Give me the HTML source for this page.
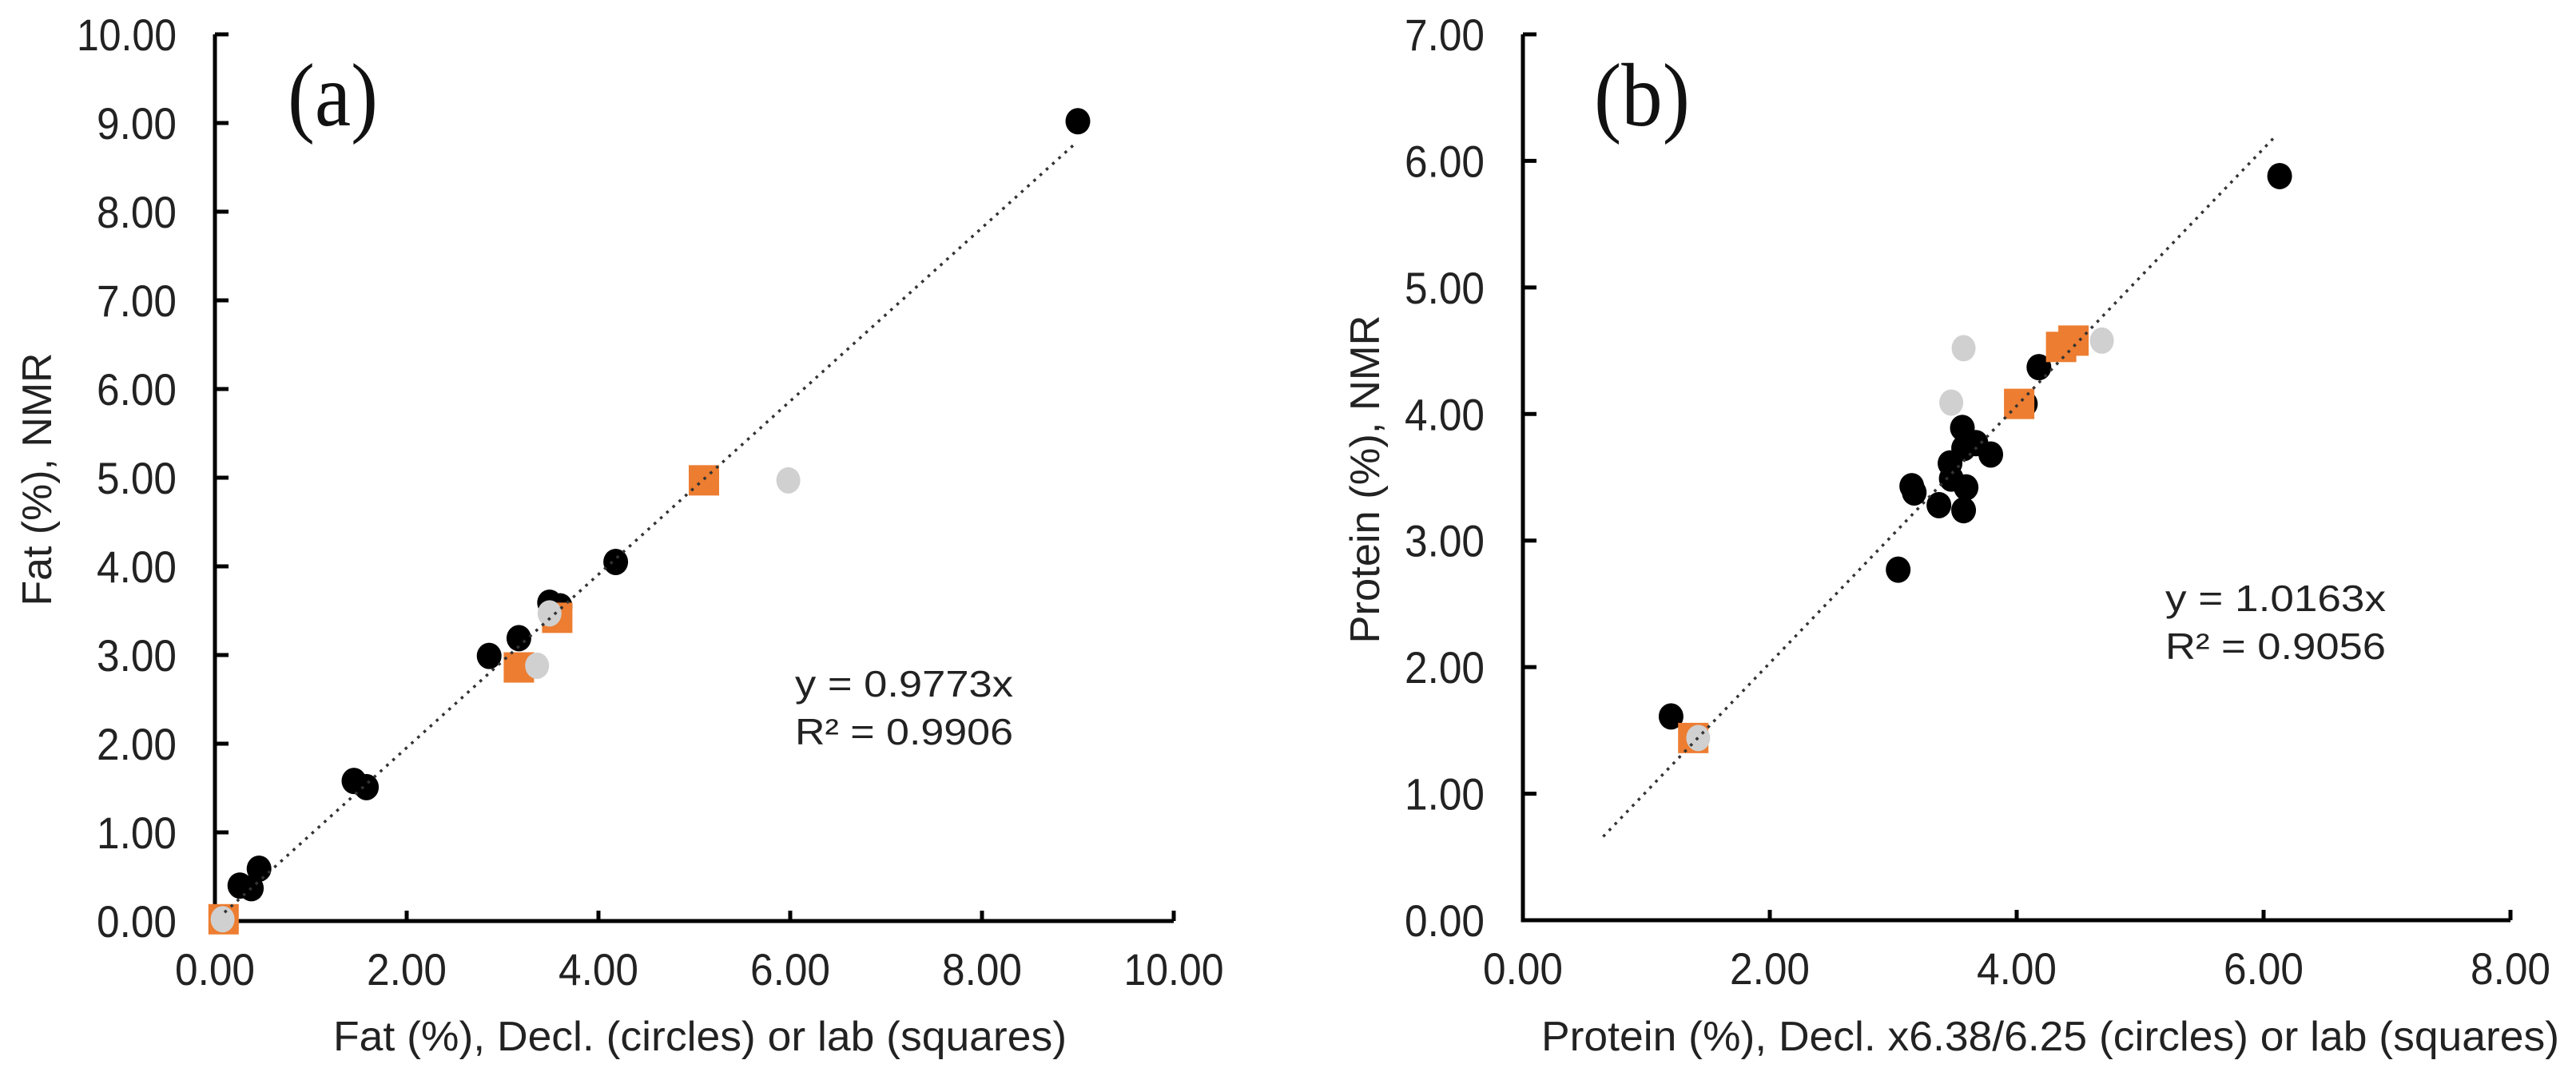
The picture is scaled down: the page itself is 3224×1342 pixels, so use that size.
<!DOCTYPE html>
<html><head><meta charset="utf-8"><style>
html,body{margin:0;padding:0;background:#fff;}
svg{display:block;font-family:"Liberation Sans",Arial,sans-serif;}
</style></head><body>
<svg id="fig" width="3224" height="1342" viewBox="0 0 3224 1342" xmlns="http://www.w3.org/2000/svg">
<g id="chartA"></g>
<g id="chartB"></g>
</svg>
<script>
// ---- Chart (a) data: Fat ----
const fatCircleX = [9.0, 4.18, 3.49, 3.6, 3.17, 2.86, 1.45, 1.58, 0.46, 0.26, 0.38, 0.1];
const fatCircleY = [9.02, 4.05, 3.59, 3.55, 3.19, 2.99, 1.58, 1.51, 0.59, 0.40, 0.37, 0.02];
const fatSquareX = [5.1, 3.17, 3.57, 0.09];
const fatSquareY = [4.97, 2.86, 3.42, 0.02];
const fatGrayX = [5.98, 3.36, 3.49, 0.08];
const fatGrayY = [4.97, 2.88, 3.47, 0.02];
const fatTicksX = ["0.00","2.00","4.00","6.00","8.00","10.00"];
const fatTicksY = ["0.00","1.00","2.00","3.00","4.00","5.00","6.00","7.00","8.00","9.00","10.00"];
const fatSlope = 0.9773;
const fatTrendRange = [0.1, 8.95];

// ---- Chart (b) data: Protein ----
const protCircleX = [6.13, 4.18, 4.07, 3.04, 1.2, 3.15, 3.17, 3.37, 3.46, 3.47, 3.56, 3.57, 3.59, 3.57, 3.67, 3.79];
const protCircleY = [5.88, 4.37, 4.08, 2.77, 1.61, 3.43, 3.38, 3.28, 3.61, 3.49, 3.89, 3.73, 3.42, 3.24, 3.77, 3.68];
const protSquareX = [1.38, 4.02, 4.36, 4.46];
const protSquareY = [1.44, 4.08, 4.53, 4.58];
const protGrayX = [1.42, 3.57, 3.47, 4.69];
const protGrayY = [1.44, 4.52, 4.09, 4.58];
const protTicksX = ["0.00","2.00","4.00","6.00","8.00"];
const protTicksY = ["0.00","1.00","2.00","3.00","4.00","5.00","6.00","7.00"];
const protSlope = 1.0163;
const protTrendRange = [0.65, 6.08];

const NS = "http://www.w3.org/2000/svg";
function mk(parent, tag, attrs, text) {
  const e = document.createElementNS(NS, tag);
  for (const k in attrs) e.setAttribute(k, attrs[k]);
  if (text !== undefined) e.textContent = text;
  parent.appendChild(e);
  return e;
}

function drawChart(g, cfg) {
  const sx = v => cfg.x0 + v / cfg.xMax * (cfg.x1 - cfg.x0);
  const sy = v => cfg.y0 - v / cfg.yMax * (cfg.y0 - cfg.y1);
  const ax = mk(g, "path", {d:`M${cfg.x0},${cfg.y1} V${cfg.y0} H${cfg.x1}`, fill:"none", stroke:"#000", "stroke-width":5});
  
  
  cfg.ticksY.forEach((t) => {
    const v = parseFloat(t); const y = sy(v);
    const tk = mk(g, "line", {x1:cfg.x0, x2:cfg.x0+17, y1:y, y2:y, stroke:"#000", "stroke-width":5});
    
    
    const lb = mk(g, "text", {x:cfg.x0-48, y:y+20, "text-anchor":"end", "font-size":56, fill:"#222", textLength: t.length*25, lengthAdjust:"spacingAndGlyphs"}, t);
    
    
  });
  cfg.ticksX.forEach((t) => {
    const v = parseFloat(t); const x = sx(v);
    const tk = mk(g, "line", {x1:x, x2:x, y1:cfg.y0, y2:cfg.y0-13, stroke:"#000", "stroke-width":5});
    
    
    const lb = mk(g, "text", {x:x, y:cfg.y0+80, "text-anchor":"middle", "font-size":56, fill:"#222", textLength: t.length*25, lengthAdjust:"spacingAndGlyphs"}, t);
    
    
  });
  cfg.circX.forEach((v, i) => {
    const c = mk(g, "ellipse", {cx:sx(v), cy:sy(cfg.circY[i]), rx:15.5, ry:16.5, fill:"#000"});
    
    
  });
  cfg.sqX.forEach((v, i) => {
    const s = mk(g, "rect", {x:sx(v)-19, y:sy(cfg.sqY[i])-19, width:38, height:38, fill:"#ED7D31"});
    
    
  });
  cfg.grayX.forEach((v, i) => {
    const c = mk(g, "ellipse", {cx:sx(v), cy:sy(cfg.grayY[i]), rx:15, ry:16.5, fill:"#d0d0d0"});
    
    
  });
  const [a, b] = cfg.trend;
  const tl = mk(g, "line", {x1:sx(a), y1:sy(a*cfg.slope), x2:sx(b), y2:sy(b*cfg.slope), stroke:"#333", "stroke-width":3.5, "stroke-dasharray":"3.5 7"});
  
  
  const e1 = mk(g, "text", {x:cfg.eqX, y:cfg.eqY, "font-size":46, fill:"#222", textLength:cfg.eqLen, lengthAdjust:"spacingAndGlyphs"}, cfg.eq1);
  
  
  const e2 = mk(g, "text", {x:cfg.eqX, y:cfg.eqY+60, "font-size":46, fill:"#222", textLength:cfg.eqLen, lengthAdjust:"spacingAndGlyphs"}, cfg.eq2);
  
  
  const pl = mk(g, "text", {x:cfg.panelX, y:157, "font-size":112, "font-family":"Liberation Serif, serif", fill:"#111", textLength:cfg.panelLen, lengthAdjust:"spacingAndGlyphs"}, cfg.panel);
  
  
  const xt = mk(g, "text", {x:cfg.xtX, y:1315, "text-anchor":"middle", "font-size":52, fill:"#222", textLength:cfg.xtLen, lengthAdjust:"spacingAndGlyphs"}, cfg.xTitle);
  
  
  const yt = mk(g, "text", {x:0, y:0, "text-anchor":"middle", "font-size":52, fill:"#222", textLength:cfg.ytLen, lengthAdjust:"spacingAndGlyphs", transform:`translate(${cfg.ytX},600) rotate(-90)`}, cfg.yTitle);
  
  
}

drawChart(document.getElementById("chartA"), {
  x0:269, x1:1469, y0:1153, y1:43, xMax:10, yMax:10,
  ticksX:fatTicksX, ticksY:fatTicksY,
  circX:fatCircleX, circY:fatCircleY, sqX:fatSquareX, sqY:fatSquareY, grayX:fatGrayX, grayY:fatGrayY,
  slope:fatSlope, trend:fatTrendRange,
  eq1:"y = 0.9773x", eq2:"R² = 0.9906", eqX:995, eqY:872, eqLen:273,
  panel:"(a)", panelX:360, panelLen:113,
  xTitle:"Fat (%), Decl. (circles) or lab (squares)", xtX:876, xtLen:918,
  yTitle:"Fat (%), NMR", ytX:64, ytLen:317
});
drawChart(document.getElementById("chartB"), {
  x0:1906, x1:3142, y0:1152, y1:43, xMax:8, yMax:7,
  ticksX:protTicksX, ticksY:protTicksY,
  circX:protCircleX, circY:protCircleY, sqX:protSquareX, sqY:protSquareY, grayX:protGrayX, grayY:protGrayY,
  slope:protSlope, trend:protTrendRange,
  eq1:"y = 1.0163x", eq2:"R² = 0.9056", eqX:2710, eqY:765, eqLen:276,
  panel:"(b)", panelX:1995, panelLen:120,
  xTitle:"Protein (%), Decl. x6.38/6.25 (circles) or lab (squares)", xtX:2566, xtLen:1274,
  yTitle:"Protein (%), NMR", ytX:1726, ytLen:411
});
</script>
</body></html>
